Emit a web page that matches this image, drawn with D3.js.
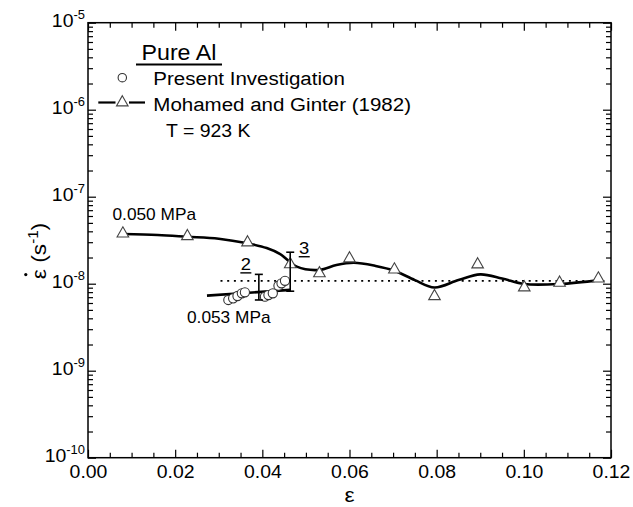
<!DOCTYPE html>
<html><head><meta charset="utf-8">
<script src="https://cdn.jsdelivr.net/npm/d3@7"></script>
<style>
body{margin:0;background:#fff;}
svg{display:block;font-family:"Liberation Sans",Arial,sans-serif;}
</style></head><body>
<svg id="chart" width="633" height="507"></svg>
<script>
// Creep of pure Al at 923 K: strain rate against strain

// Mohamed and Ginter (1982), 0.050 MPa: measured points
const triStrain = [0.0080, 0.0228, 0.0366, 0.0464, 0.0531, 0.0600, 0.0703, 0.0795, 0.0894, 0.1001, 0.1082, 0.1171];
const triRate   = [3.79e-8, 3.53e-8, 2.99e-8, 1.68e-8, 1.32e-8, 1.96e-8, 1.46e-8, 7.22e-9, 1.67e-8, 9.1e-9, 1.03e-8, 1.15e-8];

// Mohamed and Ginter (1982): drawn trend through the points
const curveStrain = [0.0080, 0.0160, 0.0227, 0.0300, 0.0366, 0.0410, 0.0441, 0.0479, 0.0531, 0.0570, 0.0610, 0.0660, 0.0703, 0.0750, 0.0795, 0.0850, 0.0900, 0.0950, 0.1001, 0.1082, 0.1175];
const curveRate   = [3.72e-8, 3.63e-8, 3.47e-8, 3.29e-8, 2.91e-8, 2.57e-8, 2.19e-8, 1.57e-8, 1.44e-8, 1.64e-8, 1.74e-8, 1.60e-8, 1.41e-8, 1.10e-8, 9.04e-9, 1.10e-8, 1.28e-8, 1.15e-8, 9.92e-9, 9.92e-9, 1.10e-8];

// Present investigation, 0.053 MPa
const circStrain = [0.0322, 0.0333, 0.0343, 0.0353, 0.0360, 0.0406, 0.0414, 0.0424, 0.0437, 0.0444, 0.0452];
const circRate   = [6.50e-9, 6.79e-9, 7.22e-9, 7.76e-9, 7.96e-9, 7.09e-9, 7.41e-9, 7.76e-9, 9.48e-9, 1.01e-8, 1.08e-8];

// Present investigation: trend line
const fitStrain = [0.0273, 0.0464];
const fitRate   = [7.3e-9, 8.5e-9];

// Scatter bands
const barStrain = [0.0392, 0.0464];
const barLow    = [6.5e-9, 8.2e-9];
const barHigh   = [1.28e-8, 2.30e-8];
const barLabel  = ["2", "3"];

// Average steady-state rate
const steadyRate = 1.08e-8;
const steadyFrom = 0.0304;

// Axes
const xTicks = [0.00, 0.02, 0.04, 0.06, 0.08, 0.10, 0.12];
const xTickLabels = ["0.00", "0.02", "0.04", "0.06", "0.08", "0.10", "0.12"];
const yExps = [-10, -9, -8, -7, -6, -5];

const W = 633, H = 507;
const M = {left: 88, right: 22, top: 22.7, bottom: 49.3};
const SX = 1.08; // horizontal stretch of lettering

const svg = d3.select("#chart");
const x = d3.scaleLinear().domain([0, 0.12]).range([M.left, W - M.right]);
const y = d3.scaleLog().domain([1e-10, 1e-5]).range([H - M.bottom, M.top]);

// stretched text helper
function label(parent, px, py, str, size, anchor) {
  const g = parent.append("g").attr("transform", `translate(${px},${py}) scale(${SX},1)`);
  return g.append("text").attr("font-size", size).attr("text-anchor", anchor || "start").attr("fill", "#000").text(str);
}

// ticks
const xMinor = d3.range(0, 0.1201, 0.005).filter(v => !xTicks.some(t => Math.abs(t - v) < 1e-9));
const yMinor = [];
yExps.slice(0, -1).forEach(e => { for (let k = 2; k <= 9; k++) yMinor.push(k * Math.pow(10, e)); });
const yMajor = yExps.map(e => Math.pow(10, e));

const tickStyle = g => { g.select(".domain").remove(); g.selectAll("line").attr("stroke", "#000").attr("stroke-width", 1.2); };

const bx = svg.append("g").attr("transform", `translate(0,${H - M.bottom})`)
  .call(d3.axisBottom(x).tickValues(xTicks).tickSize(-8).tickPadding(7.5).tickFormat((d, i) => xTickLabels[i]))
  .call(tickStyle);
bx.selectAll("text").attr("font-size", 18).attr("fill", "#000").attr("font-family", "Liberation Sans, Arial, sans-serif").attr("transform", `scale(${SX},1)`);
svg.append("g").attr("transform", `translate(0,${H - M.bottom})`)
  .call(d3.axisBottom(x).tickValues(xMinor).tickSize(-5).tickFormat("")).call(tickStyle);
svg.append("g").attr("transform", `translate(0,${M.top})`)
  .call(d3.axisTop(x).tickValues(xTicks).tickSize(-8).tickFormat("")).call(tickStyle);
svg.append("g").attr("transform", `translate(0,${M.top})`)
  .call(d3.axisTop(x).tickValues(xMinor).tickSize(-5).tickFormat("")).call(tickStyle);

svg.append("g").attr("transform", `translate(${M.left},0)`)
  .call(d3.axisLeft(y).tickValues(yMajor).tickSize(-8).tickFormat("")).call(tickStyle);
svg.append("g").attr("transform", `translate(${M.left},0)`)
  .call(d3.axisLeft(y).tickValues(yMinor).tickSize(-5).tickFormat("")).call(tickStyle);
svg.append("g").attr("transform", `translate(${W - M.right},0)`)
  .call(d3.axisRight(y).tickValues(yMajor).tickSize(-8).tickFormat("")).call(tickStyle);
svg.append("g").attr("transform", `translate(${W - M.right},0)`)
  .call(d3.axisRight(y).tickValues(yMinor).tickSize(-5).tickFormat("")).call(tickStyle);

// y tick labels as powers of ten
yExps.forEach(e => {
  const t = label(svg, M.left - 3, y(Math.pow(10, e)) + 4.5, "", 18, "end");
  t.append("tspan").text("10");
  t.append("tspan").attr("font-size", 12).attr("dy", -8).text(String(e));
});

// frame
svg.append("rect").attr("x", M.left).attr("y", M.top)
  .attr("width", W - M.left - M.right).attr("height", H - M.top - M.bottom)
  .attr("fill", "none").attr("stroke", "#000").attr("stroke-width", 1.5);

// axis titles
label(svg, x(0.06), 502, "ε", 21, "middle");
const yt = svg.append("g").attr("transform", "translate(46,251) rotate(-90)");
const ytt = yt.append("g").attr("transform", `scale(${SX},1)`).append("text")
  .attr("font-size", 21).attr("text-anchor", "middle");
ytt.append("tspan").text("ε (s");
ytt.append("tspan").attr("font-size", 14).attr("dy", -8).text("-1");
ytt.append("tspan").attr("dy", 8).text(")");
const e0 = ytt.node().getExtentOfChar(0);
yt.append("circle").attr("cx", (e0.x + e0.width * 0.45) * SX).attr("cy", e0.y - 1).attr("r", 1.6).attr("fill", "#000");

// steady-state level
svg.append("line")
  .attr("x1", x(steadyFrom)).attr("x2", x(0.12) - 3)
  .attr("y1", y(steadyRate)).attr("y2", y(steadyRate))
  .attr("stroke", "#000").attr("stroke-width", 1.8).attr("stroke-dasharray", "2,4.7");

// Mohamed and Ginter trend
const line = d3.line().x(d => x(d[0])).y(d => y(d[1])).curve(d3.curveCatmullRom.alpha(0.5));
svg.append("path").attr("d", line(d3.zip(curveStrain, curveRate)))
  .attr("fill", "none").attr("stroke", "#000").attr("stroke-width", 2.6);

const triPath = "M0,-6.6L5.8,3.6L-5.8,3.6Z";
svg.append("g").selectAll("path").data(d3.zip(triStrain, triRate)).join("path")
  .attr("d", triPath).attr("transform", d => `translate(${x(d[0])},${y(d[1])})`)
  .attr("fill", "#fff").attr("stroke", "#444").attr("stroke-width", 1.1);

// Present investigation
svg.append("path").attr("d", d3.line().x(d => x(d[0])).y(d => y(d[1]))(d3.zip(fitStrain, fitRate)))
  .attr("fill", "none").attr("stroke", "#000").attr("stroke-width", 2.6);
svg.append("g").selectAll("circle").data(d3.zip(circStrain, circRate)).join("circle")
  .attr("cx", d => x(d[0])).attr("cy", d => y(d[1])).attr("r", 4.6)
  .attr("fill", "#fff").attr("stroke", "#333").attr("stroke-width", 1.1);

// scatter bands with underlined numbers
barStrain.forEach((s, i) => {
  const g = svg.append("g").attr("stroke", "#000").attr("stroke-width", 1.6);
  const cx = x(s), y0 = y(barLow[i]), y1 = y(barHigh[i]);
  g.append("line").attr("x1", cx).attr("x2", cx).attr("y1", y0).attr("y2", y1);
  g.append("line").attr("x1", cx - 4).attr("x2", cx + 4).attr("y1", y0).attr("y2", y0);
  g.append("line").attr("x1", cx - 4).attr("x2", cx + 4).attr("y1", y1).attr("y2", y1);
  const lx = cx - 13 + i * 27, ly = y1 + (i === 0 ? -4 : 2);
  label(svg, lx, ly, barLabel[i], 17, "middle");
  svg.append("line").attr("x1", lx - 5.5).attr("x2", lx + 5.5).attr("y1", ly + 2.5).attr("y2", ly + 2.5)
    .attr("stroke", "#000").attr("stroke-width", 1.4);
});

// stress labels
label(svg, 112.5, 220, "0.050 MPa", 16);
label(svg, 187, 323, "0.053 MPa", 16);

// legend
label(svg, 141.5, 60, "Pure Al", 21.5);
svg.append("line").attr("x1", 136).attr("x2", 222).attr("y1", 64.5).attr("y2", 64.5)
  .attr("stroke", "#000").attr("stroke-width", 2);
svg.append("circle").attr("cx", 122.3).attr("cy", 77.7).attr("r", 4.2)
  .attr("fill", "#fff").attr("stroke", "#333").attr("stroke-width", 1.1);
label(svg, 153.3, 85, "Present Investigation", 19);
svg.append("line").attr("x1", 98.3).attr("x2", 115.5).attr("y1", 102.5).attr("y2", 102.5).attr("stroke", "#000").attr("stroke-width", 2.2);
svg.append("line").attr("x1", 129).attr("x2", 145).attr("y1", 102.5).attr("y2", 102.5).attr("stroke", "#000").attr("stroke-width", 2.2);
svg.append("path").attr("d", triPath).attr("transform", "translate(122.3,102.3)")
  .attr("fill", "#fff").attr("stroke", "#444").attr("stroke-width", 1.1);
label(svg, 153.3, 111, "Mohamed and Ginter (1982)", 19);
label(svg, 166, 137.3, "T = 923 K", 18);
</script>
</body></html>
